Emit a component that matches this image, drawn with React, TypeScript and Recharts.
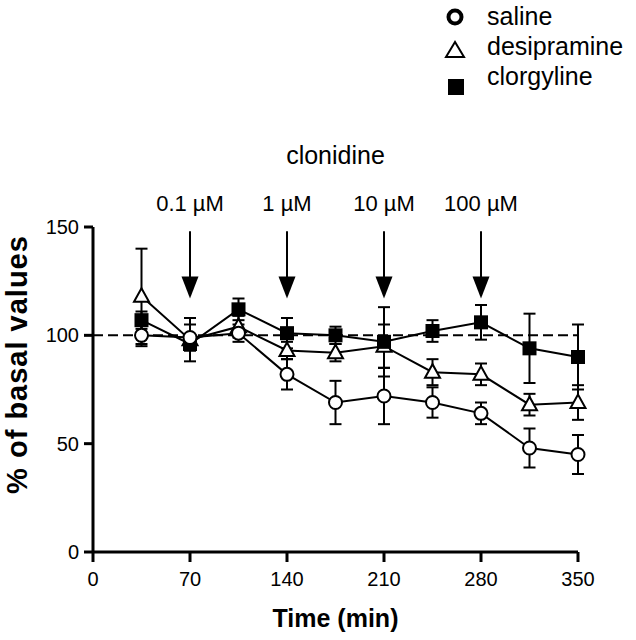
import React from "react";
import {
  LineChart,
  Line,
  XAxis,
  YAxis,
  ErrorBar,
  ReferenceLine,
  ReferenceDot,
} from "recharts";

// sampling times (min)
const times = [35, 70, 105, 140, 175, 210, 245, 280, 315, 350];

// % of basal values, mean and SEM
const saline = [100, 99, 101, 82, 69, 72, 69, 64, 48, 45];
const salineErr = [5, 6, 4, 7, 10, 13, 7, 5, 9, 9];
const desipramine = [118, 98, 104, 93, 92, 95, 83, 82, 68, 69];
const desipramineErr = [22, 10, 5, 4, 4, 10, 6, 5, 5, 8];
const clorgyline = [107, 96, 112, 101, 100, 97, 102, 106, 94, 90];
const clorgylineErr = [4, 3, 5, 7, 4, 16, 5, 8, 16, 15];

const xTicks = [0, 70, 140, 210, 280, 350];
const yTicks = [0, 50, 100, 150];

// clonidine additions
const doseTimes = [70, 140, 210, 280];
const doseLabels = ["0.1 µM", "1 µM", "10 µM", "100 µM"];

const FONT = "'Liberation Sans', Arial, Helvetica, sans-serif";

const data = times.map((t, i) => ({
  time: t,
  saline: saline[i],
  salineErr: salineErr[i],
  desipramine: desipramine[i],
  desipramineErr: desipramineErr[i],
  clorgyline: clorgyline[i],
  clorgylineErr: clorgylineErr[i],
}));

const CircleDot = (props: any) => {
  const { cx, cy, index } = props;
  if (cx == null || cy == null) return <g key={`c${index}`} />;
  return (
    <circle key={`c${index}`} cx={cx} cy={cy} r={6.5} fill="#fff" stroke="#000" strokeWidth={2} />
  );
};

const TriangleDot = (props: any) => {
  const { cx, cy, index } = props;
  if (cx == null || cy == null) return <g key={`t${index}`} />;
  const pts = `${cx},${cy - 8} ${cx - 7.5},${cy + 5.5} ${cx + 7.5},${cy + 5.5}`;
  return <polygon key={`t${index}`} points={pts} fill="#fff" stroke="#000" strokeWidth={2} />;
};

const SquareDot = (props: any) => {
  const { cx, cy, index } = props;
  if (cx == null || cy == null) return <g key={`s${index}`} />;
  return <rect key={`s${index}`} x={cx - 7} y={cy - 7} width={14} height={14} fill="#000" />;
};

// arrow from (x1,y1) down to tip (x2,y2), dose text above
const makeArrow = (label: string) => (props: any) => {
  const { x1, y1, x2, y2 } = props;
  const head = 22;
  return (
    <g>
      <line x1={x1} y1={y1} x2={x2} y2={y2 - head + 2} stroke="#000" strokeWidth={2} />
      <polygon
        points={`${x2 - 8.5},${y2 - head} ${x2 + 8.5},${y2 - head} ${x2},${y2}`}
        fill="#000"
      />
      <text x={x1} y={y1 - 20} textAnchor="middle" fontFamily={FONT} fontSize={22} fill="#000">
        {label}
      </text>
    </g>
  );
};

const ClonidineText = (props: any) => {
  const { cx, cy } = props;
  return (
    <text x={cx} y={cy} textAnchor="middle" fontFamily={FONT} fontSize={25} fill="#000">
      clonidine
    </text>
  );
};

const YLabel = (props: any) => {
  const { viewBox } = props;
  const x = viewBox.x + 4;
  const y = viewBox.y + viewBox.height / 2 - 25;
  return (
    <text
      x={x}
      y={y}
      transform={`rotate(-90 ${x} ${y})`}
      textAnchor="middle"
      fontFamily={FONT}
      fontWeight="bold"
      fontSize={29}
      letterSpacing={1}
      fill="#000"
    >
      % of basal values
    </text>
  );
};

const XLabel = (props: any) => {
  const { viewBox } = props;
  return (
    <text
      x={viewBox.x + viewBox.width / 2}
      y={viewBox.y + viewBox.height}
      textAnchor="middle"
      fontFamily={FONT}
      fontWeight="bold"
      fontSize={25}
      fill="#000"
    >
      Time (min)
    </text>
  );
};

const LegendBox = () => (
  <div style={{ position: "absolute", left: 440, top: 0 }}>
    <svg width={196} height={100}>
      <circle cx={15} cy={17} r={6.5} fill="#fff" stroke="#000" strokeWidth={4} />
      <polygon points="15,42 6,57 24,57" fill="#fff" stroke="#000" strokeWidth={2} />
      <rect x={8} y={79} width={16} height={16} fill="#000" />
      <g fontFamily={FONT} fontSize={25} fill="#000">
        <text x={47} y={25}>saline</text>
        <text x={47} y={55}>desipramine</text>
        <text x={47} y={85}>clorgyline</text>
      </g>
    </svg>
  </div>
);

export default function App() {
  const axisStroke = { stroke: "#000", strokeWidth: 3 };
  return (
    <div style={{ position: "absolute", left: 0, top: 0, width: 636, height: 640, background: "#fff" }}>
      <LineChart
        width={636}
        height={640}
        data={data}
        margin={{ top: 227, right: 58, bottom: 13, left: 23 }}
      >
        <XAxis
          dataKey="time"
          type="number"
          domain={[0, 350]}
          ticks={xTicks}
          tickSize={10}
          tickMargin={10}
          height={75}
          axisLine={axisStroke}
          tickLine={axisStroke}
          tick={{ fill: "#000", fontSize: 20, fontFamily: FONT }}
          label={<XLabel />}
        />
        <YAxis
          type="number"
          domain={[0, 150]}
          ticks={yTicks}
          tickSize={9}
          tickMargin={5}
          width={70}
          axisLine={axisStroke}
          tickLine={axisStroke}
          tick={{ fill: "#000", fontSize: 20, fontFamily: FONT }}
          label={<YLabel />}
        />
        <ReferenceLine y={100} stroke="#000" strokeWidth={2} strokeDasharray="10 5" />
        {doseTimes.map((t, i) => (
          <ReferenceLine
            key={t}
            segment={[
              { x: t, y: 148 },
              { x: t, y: 117 },
            ]}
            ifOverflow="visible"
            shape={makeArrow(doseLabels[i])}
          />
        ))}
        <ReferenceDot x={175} y={179} ifOverflow="visible" shape={<ClonidineText />} />
        <Line
          dataKey="desipramine"
          stroke="#000"
          strokeWidth={2}
          dot={TriangleDot}
          activeDot={false}
          isAnimationActive={false}
        >
          <ErrorBar dataKey="desipramineErr" direction="y" width={6} stroke="#000" strokeWidth={2} />
        </Line>
        <Line
          dataKey="clorgyline"
          stroke="#000"
          strokeWidth={2}
          dot={SquareDot}
          activeDot={false}
          isAnimationActive={false}
        >
          <ErrorBar dataKey="clorgylineErr" direction="y" width={6} stroke="#000" strokeWidth={2} />
        </Line>
        <Line
          dataKey="saline"
          stroke="#000"
          strokeWidth={2}
          dot={CircleDot}
          activeDot={false}
          isAnimationActive={false}
        >
          <ErrorBar dataKey="salineErr" direction="y" width={6} stroke="#000" strokeWidth={2} />
        </Line>
      </LineChart>
      <LegendBox />
    </div>
  );
}
